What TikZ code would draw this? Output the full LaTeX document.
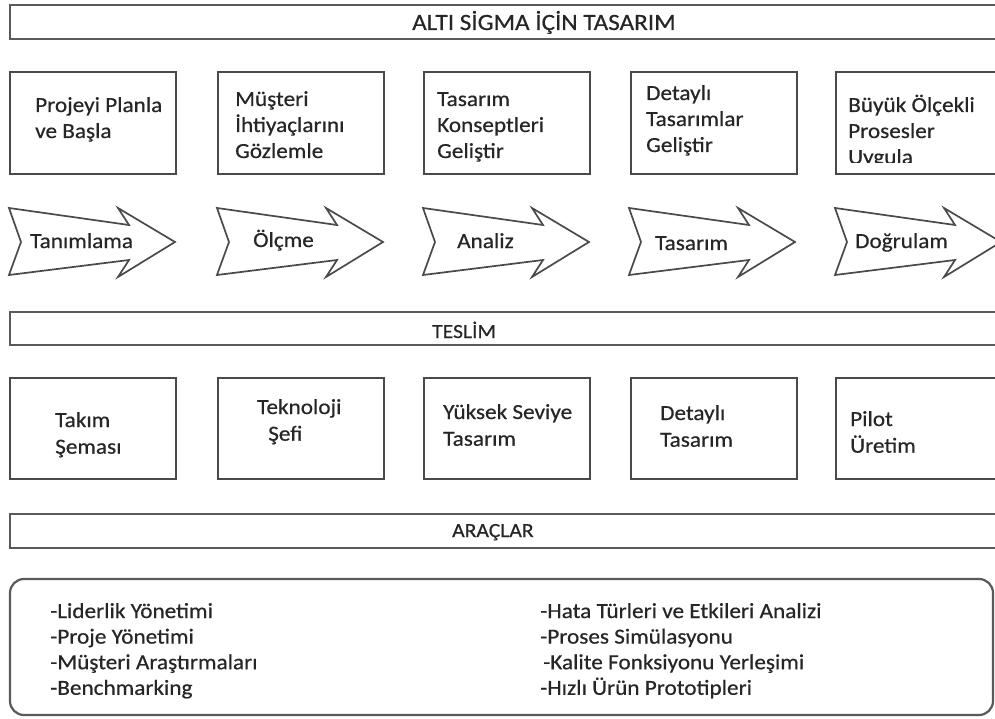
\documentclass[tikz,border=0pt]{standalone}
\usepackage{fontspec}
\setmainfont{Carlito}[FakeStretch=1.08,FakeBold=0.5]
\definecolor{linegray}{HTML}{4A4A4A}
\definecolor{bargray}{HTML}{5A5A5A}
\definecolor{txtgray}{HTML}{262626}
\begin{document}
\begin{tikzpicture}[x=1pt,y=-1pt,
  bar/.style={draw=bargray, line width=2.4pt, fill=white, anchor=north west, minimum width=1010pt, minimum height=34pt, inner sep=0pt},
  box/.style={draw=linegray, line width=1.8pt, anchor=north west, minimum width=166pt, inner sep=0pt},
  arr/.style={draw=linegray, line width=1.7pt, line join=miter, fill=white},
  txt/.style={text=txtgray, inner sep=0pt, anchor=base west, align=left, font=\fontsize{21.5}{26}\selectfont},
  btxt/.style={txt, font=\fontsize{21.5}{26.7}\selectfont},
  htxt/.style={txt, font=\fontsize{23.3}{28}\selectfont},
  stxt/.style={txt, font=\fontsize{20}{24}\selectfont},
  ltxt/.style={txt, font=\fontsize{21.5}{25.6}\selectfont}]
\useasboundingbox (0,0) rectangle (995,719);
\clip (0,0) rectangle (995,719);
\fill[white] (0,0) rectangle (995,719);

% bars
\node[bar] (titlebar) at (9,4) {};
\node[htxt] (title) at (412,30) {ALTI SİGMA İÇİN TASARIM};
\node[bar, minimum height=33pt] (teslimbar) at (9,311) {};
\node[stxt] (teslim) at (432,338) {TESLİM};
\node[bar, minimum height=34pt] (araclarbar) at (9,513) {};
\node[stxt] (araclar) at (452,537) {ARAÇLAR};

% top boxes
\node[box, minimum height=102pt] (p1) at (9,71) {};
\node[box, minimum height=102pt] (p2) at (217,71) {};
\node[box, minimum height=102pt] (p3) at (423,71) {};
\node[box, minimum height=102pt] (p4) at (630,71) {};
\node[box, minimum height=102pt] (p5) at (835,71) {};
\node[txt] (p1t) at (35,138) {Projeyi Planla\\ve Başla};
\node[txt] (p2t) at (235,158) {Müşteri\\İhtiyaçlarını\\Gözlemle};
\node[txt] (p3t) at (437,158) {Tasarım\\Konseptleri\\Geliştir};
\node[txt] (p4t) at (646,152) {Detaylı\\Tasarımlar\\Geliştir};
\begin{scope}
\clip (835,60) rectangle (1000,162.5);
\node[txt] (p5t) at (848,164) {Büyük Ölçekli\\Prosesler\\Uygula};
\end{scope}

% arrows
\foreach \x in {9,217,423,629,835}{
  \begin{scope}[shift={(\x,0)}]
  \draw[arr] (0,208) -- (120,225) -- (109,208) -- (166,242) -- (109,277)
     -- (120,260) -- (0,275) -- (12,242) -- cycle;
  \end{scope}
}
\node[txt] (a1) at (30,248) {Tanımlama};
\node[txt] (a2) at (253,247) {Ölçme};
\node[txt] (a3) at (457,248) {Analiz};
\node[txt] (a4) at (655,250) {Tasarım};
\node[txt] (a5) at (855,248) {Doğrulam};

% bottom boxes
\node[box, minimum height=101pt] (d1) at (9,377) {};
\node[box, minimum height=101pt] (d2) at (217,377) {};
\node[box, minimum height=101pt] (d3) at (423,377) {};
\node[box, minimum height=101pt] (d4) at (630,377) {};
\node[box, minimum height=101pt] (d5) at (835,377) {};
\node[btxt] (d1t) at (55,453.7) {Takım\\Şeması};
\node[btxt] (d2t) at (257,440.7) {Teknoloji\\\hspace*{11pt}Şefi};
\node[btxt] (d3t) at (443,445.7) {Yüksek Seviye\\Tasarım};
\node[btxt] (d4t) at (660,446.7) {Detaylı\\Tasarım};
\node[btxt] (d5t) at (850,452.7) {Pilot\\Üretim};

% tools box
\draw[draw=bargray, line width=2.2pt, rounded corners=14pt] (10,579) rectangle (993,715);
\node[ltxt] (tl) at (50,694.8) {-Liderlik Yönetimi\\-Proje Yönetimi\\-Müşteri Araştırmaları\\-Benchmarking};
\node[ltxt] (tr) at (540,694.8) {-Hata Türleri ve Etkileri Analizi\\-Proses Simülasyonu\\\hspace*{3pt}-Kalite Fonksiyonu Yerleşimi\\-Hızlı Ürün Prototipleri};
\end{tikzpicture}
\end{document}
